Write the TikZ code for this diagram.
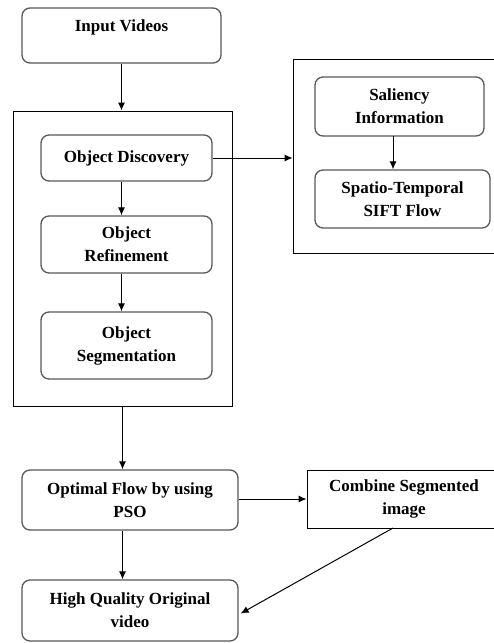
\documentclass[tikz,border=0pt]{standalone}
\usepackage{fontspec}
\setmainfont{Liberation Serif}
\usetikzlibrary{arrows.meta}
\begin{document}
\begin{tikzpicture}[x=1pt,y=-1pt,
  rbox/.style={draw=black!65, line width=1.3pt, rounded corners=8pt,
    inner sep=0pt, align=center, font=\fontsize{17}{23}\selectfont\bfseries},
  sbox/.style={draw=black, line width=0.9pt, inner sep=0pt, align=center,
    font=\fontsize{17}{23}\selectfont\bfseries},
  frame/.style={draw=black, line width=0.9pt, inner sep=0pt},
  label/.style={inner sep=0pt, align=center, font=\fontsize{17}{23}\selectfont\bfseries},
  arr/.style={line width=1pt, -{Latex[length=8pt,width=7pt]}}]
\useasboundingbox (0,0) rectangle (493,643);
\fill[white] (0,0) rectangle (493,643);

% top input box, label sits in its upper part
\node[rbox, minimum width=199pt, minimum height=55pt] (input) at (121.5,35.5) {};
\node[label] (inputtxt) at (121.5,27) {Input Videos};

% left group of object stages
\node[frame, minimum width=219pt, minimum height=295pt] (outer) at (122.5,258.5) {};
\node[rbox, minimum width=171pt, minimum height=46pt] (disc) at (126.5,158) {Object Discovery};
\node[rbox, minimum width=171pt, minimum height=57pt] (refine) at (126.5,244.5) {Object\\Refinement};
\node[rbox, minimum width=171pt, minimum height=67pt] (seg) at (126.5,345.5) {Object\\Segmentation};

% right group
\node[frame, minimum width=206pt, minimum height=194pt] (rout) at (396,156) {};
\node[rbox, minimum width=169pt, minimum height=59pt] (sal) at (399.5,106.5) {Saliency\\Information};
\node[rbox, minimum width=175pt, minimum height=58pt] (spatio) at (402.5,199) {Spatio-Temporal\\SIFT Flow};

% lower stages
\node[rbox, minimum width=216pt, minimum height=60pt] (opt) at (130,500) {Optimal Flow by using\\PSO};
\node[sbox, minimum width=194pt, minimum height=58pt] (comb) at (404,499) {Combine Segmented\\image};
\node[rbox, minimum width=216pt, minimum height=61pt] (hq) at (130,610.5) {High Quality Original\\video};

\coordinate (salout) at (393,136);
\coordinate (combout) at (393,528);

% connectors
\draw[arr] (input.south) -- (input.south |- outer.north);
\draw[arr] (disc.east) -- (disc.east -| rout.west);
\draw[arr] (disc.south -| input.south) -- (input.south |- refine.north);
\draw[arr] (refine.south -| input.south) -- (input.south |- seg.north);
\draw[arr] (salout) -- (salout |- spatio.north);
\draw[arr] (outer.south) -- (outer.south |- opt.north);
\draw[arr] (opt.east |- comb.west) -- (comb.west);
\draw[arr] (outer.south |- opt.south) -- (outer.south |- hq.north);
\draw[arr] (combout) -- ([shift={(2pt,-3pt)}]hq.east);
\end{tikzpicture}
\end{document}
